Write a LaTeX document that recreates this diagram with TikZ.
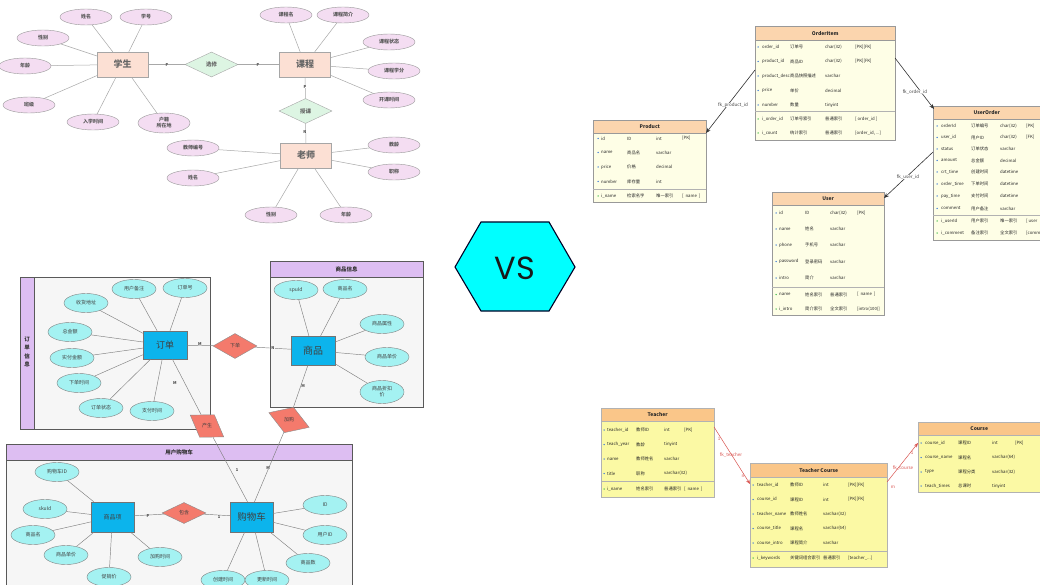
\documentclass[tikz,border=0pt]{standalone}
\usepackage{fontspec}
\setmainfont{Noto Sans CJK SC}
\newfontfamily\vsfont{Poppins}
\usetikzlibrary{shapes.geometric,arrows.meta,shadows}
\definecolor{entA}{HTML}{FCE0D4}
\definecolor{relA}{HTML}{DDF5E3}
\definecolor{attA}{HTML}{F4DDF2}
\definecolor{lnA}{HTML}{A8A8A8}
\definecolor{entB}{HTML}{0CB4EC}
\definecolor{relB}{HTML}{F47A6C}
\definecolor{attB}{HTML}{A4F2F2}
\definecolor{frmB}{HTML}{F6F6F6}
\definecolor{bandB}{HTML}{DDBEF2}
\definecolor{hexC}{HTML}{00FFFF}
\definecolor{headT}{HTML}{FBD5AE}
\definecolor{bodyT}{HTML}{FEFEE6}
\definecolor{headU}{HTML}{FAC689}
\definecolor{bodyU}{HTML}{FBF9A4}
\definecolor{fkred}{HTML}{D9534F}
\definecolor{pkblue}{HTML}{3A78D8}
\definecolor{ixgreen}{HTML}{3DBB4A}
\newcount\cellno
\newcommand\cols[5]{\def\cM{#1}\def\cN{#2}\def\cC{#3}\def\cT{#4}\def\cK{#5}}
\newcommand\trow[6]{%
  \global\advance\cellno by 1
  \node[mkdot,fill=#2] (m\the\cellno) at (\cM,#1) {};
  \node[tcell] (n\the\cellno) at (\cN,#1) {#3};
  \node[tcell] (z\the\cellno) at (\cC,#1) {#4};
  \node[tcell] (t\the\cellno) at (\cT,#1) {#5};
  \node[tcell] (k\the\cellno) at (\cK,#1) {#6};}
\begin{document}
\begin{tikzpicture}[x=1pt,y=-1pt,
  sEntA/.style={draw=black!35, fill=entA, minimum width=51, minimum height=25, inner sep=0, text=black!60, font=\fontsize{9}{9}\selectfont\bfseries},
  sRelA/.style={diamond, draw=black!35, fill=relA, minimum width=53, minimum height=25, inner sep=0, text=black!60, font=\fontsize{5.5}{6}\selectfont\bfseries},
  sAttA/.style={ellipse, draw=black!40, fill=attA, minimum width=52, minimum height=16, inner sep=0, text=black!65, font=\fontsize{5}{6}\selectfont\bfseries, align=center},
  sLnA/.style={draw=lnA, line width=0.5},
  sLbl/.style={inner sep=0, text=black!70, font=\fontsize{4}{4}\selectfont\bfseries},
  sEntB/.style={draw=black!55, fill=entB, inner sep=0, text=black!75},
  sRelB/.style={diamond, draw=black!45, fill=relB, inner sep=0, text=black!75, font=\fontsize{5}{5}\selectfont},
  sRelTxt/.style={inner sep=0, text=black!75, font=\fontsize{5}{5}\selectfont},
  sAttB/.style={ellipse, draw=black!50, fill=attB, minimum width=44, minimum height=19, inner sep=0, text=black!75, font=\fontsize{5}{6}\selectfont, align=center},
  sLnB/.style={draw=black!50, line width=0.45},
  sFrame/.style={draw=black!65, fill=frmB, line width=0.7},
  sBand/.style={draw=black!65, fill=bandB, line width=0.7},
  sBandTxt/.style={inner sep=0, text=black!80, font=\fontsize{5.5}{8.5}\selectfont\bfseries, align=center},
  sTBox/.style={draw=black!40, anchor=north west, inner sep=0, drop shadow={opacity=0.18,shadow xshift=1.2pt,shadow yshift=-1.2pt}},
  sTHead/.style={draw=black!40, anchor=north west, inner sep=0, text=black!85, font=\fontsize{5}{5}\selectfont\bfseries},
  sSep/.style={draw=black!30, line width=0.4},
  tcell/.style={anchor=west, inner sep=0, text=black!85, font=\fontsize{4.3}{5}\selectfont},
  mkdot/.style={circle, inner sep=0, minimum size=1.5},
  sFk/.style={draw=black!80, line width=0.6, -{Stealth[length=5pt,width=4pt]}},
  sFkR/.style={draw=fkred, line width=0.5, -{Stealth[length=4.5pt,width=3.5pt]}},
  sFkLbl/.style={inner sep=0, text=black!75, font=\fontsize{4.5}{5}\selectfont},
  sFkLblR/.style={inner sep=0, text=fkred, font=\fontsize{4.5}{5}\selectfont}
]
\useasboundingbox (0,0) rectangle (1040,585);
\clip (0,0) rectangle (1040,585);
\fill[white] (0,0) rectangle (1040,585);

% ================= top-left ER =================
\node[sEntA] (stu) at (122.5,64.5) {学生};
\node[sRelA] (xx) at (211.5,64.5) {选修};
\node[sEntA] (kc) at (305,64.5) {课程};
\node[sRelA] (sk) at (305.5,111) {授课};
\node[sEntA] (ls) at (306,155.5) {老师};
\node[sAttA] (a1) at (86,17) {姓名};
\node[sAttA] (a2) at (146,17) {学号};
\node[sAttA] (a3) at (43,38) {性别};
\node[sAttA] (a4) at (25,66) {年龄};
\node[sAttA] (a5) at (29,105) {班级};
\node[sAttA] (a6) at (93,122) {入学时间};
\node[sAttA, minimum height=20] (a7) at (164,123) {户籍\\所在地};
\node[sAttA] (b1) at (286,15) {课程名};
\node[sAttA] (b2) at (343,15) {课程简介};
\node[sAttA] (b3) at (389,42) {课程状态};
\node[sAttA] (b4) at (394,71) {课程学分};
\node[sAttA] (b5) at (389,100) {开课时间};
\node[sAttA] (c1) at (193,148) {教师编号};
\node[sAttA] (c2) at (193,178) {姓名};
\node[sAttA] (c3) at (394,145) {教龄};
\node[sAttA] (c4) at (394,172) {职称};
\node[sAttA] (c5) at (271,215) {性别};
\node[sAttA] (c6) at (346,215) {年龄};
\foreach \t in {a1,a2,a3,a4,a5,a6,a7} \draw[sLnA] (stu) -- (\t);
\foreach \t in {b1,b2,b3,b4,b5} \draw[sLnA] (kc) -- (\t);
\foreach \t in {c1,c2,c3,c4,c5,c6} \draw[sLnA] (ls) -- (\t);
\draw[sLnA] (stu) -- (xx);
\draw[sLnA] (xx) -- (kc);
\draw[sLnA] (kc) -- (sk);
\draw[sLnA] (sk) -- (ls);
\node[sLbl, fill=white] (l1) at (167,65) {P};
\node[sLbl, fill=white] (l2) at (258,65) {P};
\node[sLbl, fill=white] (l3) at (305,87) {P};
\node[sLbl, fill=white] (l4) at (305,132) {N};

% ================= bottom-left ER =================
\draw[sFrame] (20,277) rectangle (210,429);
\filldraw[sBand] (20,277) rectangle (34,429);
\node[sBandTxt] (ft1) at (27,352) {订\\单\\信\\息};
\draw[sFrame] (270,261) rectangle (423,407);
\filldraw[sBand] (270,261) rectangle (423,277);
\node[sBandTxt] (ft2) at (346.5,269) {商品信息};
\draw[sFrame] (6,444) rectangle (352,600);
\filldraw[sBand] (6,444) rectangle (352,460);
\node[sBandTxt] (ft3) at (179,452) {用户购物车};

\node[sEntB, minimum width=44, minimum height=28, font=\fontsize{9}{9}\selectfont] (dd) at (165,345) {订单};
\node[sRelB, minimum width=44, minimum height=25] (xd) at (235,346) {下单};
\node[sEntB, minimum width=44, minimum height=29, font=\fontsize{10}{10}\selectfont] (sp) at (313,350.5) {商品};
\node[sAttB] (d1) at (134,289) {用户备注};
\node[sAttB] (d2) at (185,288) {订单号};
\node[sAttB] (d3) at (86,303) {收货地址};
\node[sAttB] (d4) at (70,332) {总金额};
\node[sAttB] (d5) at (72,358) {实付金额};
\node[sAttB] (d6) at (79,383) {下单时间};
\node[sAttB] (d7) at (101,408) {订单状态};
\node[sAttB] (d8) at (152,411) {支付时间};
\node[sAttB] (p1) at (296,290) {spuId};
\node[sAttB] (p2) at (345,289) {商品名};
\node[sAttB] (p3) at (382,324) {商品属性};
\node[sAttB] (p4) at (387,357) {商品单价};
\node[sAttB, minimum height=23] (p5) at (382,392) {商品折扣\\价};
\node[sRelB, minimum width=40, minimum height=27, rotate=-33] (r1) at (207,426) {};
\node[sRelTxt] (r1t) at (r1.center) {产生};
\node[sRelB, minimum width=43, minimum height=27, rotate=-20] (r2) at (289,420) {};
\node[sRelTxt] (r2t) at (r2.center) {加购};

\node[sEntB, minimum width=43, minimum height=30, font=\fontsize{6}{6}\selectfont] (spx) at (112.5,517) {商品项};
\node[sRelB, minimum width=44, minimum height=21] (bh) at (184,513) {包含};
\node[sEntB, minimum width=43, minimum height=30, font=\fontsize{9.5}{10}\selectfont] (gwc) at (251.5,517) {购物车};
\node[sAttB] (e1) at (57,472) {购物车ID};
\node[sAttB] (e2) at (45,509) {skuId};
\node[sAttB] (e3) at (33,535) {商品名};
\node[sAttB] (e4) at (66,555) {商品单价};
\node[sAttB] (e5) at (109,577) {促销价};
\node[sAttB] (e6) at (160,557) {加购时间};
\node[sAttB] (f1) at (325,505) {ID};
\node[sAttB] (f2) at (325,535) {用户ID};
\node[sAttB] (f3) at (308,563) {商品数};
\node[sAttB] (f4) at (223,580) {创建时间};
\node[sAttB] (f5) at (267,580) {更新时间};

\foreach \t in {d1,d2,d3,d4,d5,d6,d7,d8} \draw[sLnB] (dd) -- (\t);
\foreach \t in {p1,p2,p3,p4,p5} \draw[sLnB] (sp) -- (\t);
\foreach \t in {e1,e2,e3,e4,e5,e6} \draw[sLnB] (spx) -- (\t);
\foreach \t in {f1,f2,f3,f4,f5} \draw[sLnB] (gwc) -- (\t);
\draw[sLnB] (dd) -- (xd);
\draw[sLnB] (xd) -- (sp);
\draw[sLnB] (dd) -- (r1);
\draw[sLnB] (r1) -- ([xshift=-4pt]gwc.north);
\draw[sLnB] (sp) -- (r2);
\draw[sLnB] (r2) -- ([xshift=3pt]gwc.north);
\draw[sLnB] (spx) -- (bh);
\draw[sLnB] (bh) -- (gwc);
\node[sLbl, fill=frmB] (m1) at (200,344) {M};
\node[sLbl, fill=frmB] (m2) at (273,348) {N};
\node[sLbl, fill=frmB] (m3) at (175,383) {M};
\node[sLbl, fill=frmB] (m4) at (303,386) {M};
\node[sLbl, fill=frmB] (m5) at (237,470) {1};
\node[sLbl, fill=frmB] (m6) at (268,468) {M};
\node[sLbl, fill=frmB] (m7) at (148,516) {P};
\node[sLbl, fill=frmB] (m8) at (219,517) {1};

% ================= VS hexagon =================
\filldraw[fill=hexC, draw=black!85!blue, line width=1.1] (455,267) -- (481,222) -- (549,222) -- (575,267) -- (549,311) -- (481,311) -- cycle;
\node[inner sep=0, text=black!90] (vs) at (515,268) {\vsfont\fontsize{32}{32}\selectfont VS};

% ================= top-right tables =================
% OrderItem
\node[sTBox, fill=bodyT, minimum width=140, minimum height=114] (oi) at (755,26) {};
\node[sTHead, fill=headT, minimum width=140, minimum height=14] (oih) at (755,26) {OrderItem};
\draw[sSep] (755,111) -- (895,111);
\cols{758}{762}{790}{825}{855}
\trow{47}{pkblue}{order\_id}{订单号}{char(32)}{[PK][FK]}
\trow{61.5}{pkblue}{product\_id}{商品ID}{char(32)}{[PK][FK]}
\trow{76}{pkblue}{product\_desc}{商品快照描述}{varchar}{}
\trow{90.5}{pkblue}{price}{单价}{decimal}{}
\trow{105}{pkblue}{number}{数量}{tinyint}{}
\trow{119}{ixgreen}{i\_order\_id}{订单号索引}{普通索引}{[ order\_id ]}
\trow{133}{ixgreen}{i\_count}{统计索引}{普通索引}{[order\_id, ...]}
% Product
\node[sTBox, fill=bodyT, minimum width=113, minimum height=82] (pr) at (593,120) {};
\node[sTHead, fill=headT, minimum width=113, minimum height=13] (prh) at (593,120) {Product};
\draw[sSep] (593,189) -- (706,189);
\cols{598}{601}{627}{656}{682}
\trow{138.5}{pkblue}{id}{ID}{int}{[PK]}
\trow{152.5}{pkblue}{name}{商品名}{varchar}{}
\trow{167}{pkblue}{price}{价格}{decimal}{}
\trow{181.5}{pkblue}{number}{库存量}{int}{}
\trow{196}{ixgreen}{i\_name}{检索名字}{唯一索引}{[ \ name \ ]}
% User
\node[sTBox, fill=bodyT, minimum width=112, minimum height=123] (us) at (772,192) {};
\node[sTHead, fill=headT, minimum width=112, minimum height=13] (ush) at (772,192) {User};
\draw[sSep] (772,287) -- (884,287);
\cols{776}{779}{805}{830}{857}
\trow{213}{pkblue}{id}{ID}{char(32)}{[PK]}
\trow{229}{pkblue}{name}{姓名}{varchar}{}
\trow{245}{pkblue}{phone}{手机号}{varchar}{}
\trow{261.5}{pkblue}{password}{登录密码}{varchar}{}
\trow{278}{pkblue}{intro}{简介}{varchar}{}
\trow{294.5}{ixgreen}{name}{姓名索引}{普通索引}{[ \ name \ ]}
\trow{309}{ixgreen}{i\_intro}{简介索引}{全文索引}{[intro(100)]}
% UserOrder
\node[sTBox, fill=bodyT, minimum width=120, minimum height=134] (uo) at (933,106) {};
\node[sTHead, fill=headT, minimum width=120, minimum height=13] (uoh) at (933,106) {\hspace*{-13pt}UserOrder};
\draw[sSep] (933,215) -- (1053,215);
\cols{937}{941}{971}{1000}{1026}
\trow{126}{pkblue}{orderId}{订单编号}{char(32)}{[PK]}
\trow{137.5}{pkblue}{user\_id}{用户ID}{char(32)}{[FK]}
\trow{149}{pkblue}{status}{订单状态}{varchar}{}
\trow{160.5}{pkblue}{amount}{总金额}{decimal}{}
\trow{172}{pkblue}{crt\_time}{创建时间}{datetime}{}
\trow{184}{pkblue}{order\_time}{下单时间}{datetime}{}
\trow{196}{pkblue}{pay\_time}{支付时间}{datetime}{}
\trow{208.5}{pkblue}{comment}{用户备注}{varchar}{}
\trow{221}{ixgreen}{i\_userId}{用户索引}{唯一索引}{[ user}
\trow{233}{ixgreen}{i\_comment}{备注索引}{全文索引}{[comm}

\coordinate (oiL) at (755,70);
\coordinate (prR) at (706,133);
\draw[sFk] (oiL) -- (prR);
\node[sFkLbl, fill=white] (fl1) at (733,105) {fk\_product\_id};
\coordinate (oiR) at (895,58);
\coordinate (uoT) at (934,109);
\draw[sFk] (oiR) -- (uoT);
\node[sFkLbl, fill=white] (fl2) at (915,92) {fk\_order\_id};
\coordinate (uoL) at (933,152);
\coordinate (usR) at (884,198);
\draw[sFk] (uoL) -- (usR);
\node[sFkLbl, fill=white] (fl3) at (908,177) {fk\_user\_id};

% ================= bottom-right tables =================
% Teacher
\node[sTBox, draw=black!30, fill=bodyU, minimum width=113, minimum height=89] (te) at (601,408) {};
\node[sTHead, draw=black!30, fill=headU, minimum width=113, minimum height=13] (teh) at (601,408) {Teacher};
\draw[sSep] (601,481) -- (714,481);
\cols{604}{607}{636}{664}{684}
\trow{430}{pkblue}{teacher\_id}{教师ID}{int}{[PK]}
\trow{444.5}{pkblue}{teach\_year}{教龄}{tinyint}{}
\trow{459}{pkblue}{name}{教师姓名}{varchar}{}
\trow{473.5}{pkblue}{title}{职称}{varchar(32)}{}
\trow{489}{ixgreen}{i\_name}{姓名索引}{普通索引}{[ \ name \ ]}
% Teacher Course
\node[sTBox, draw=black!30, fill=bodyU, minimum width=137, minimum height=104] (tc) at (750,463) {};
\node[sTHead, draw=black!30, fill=headU, minimum width=137, minimum height=14] (tch) at (750,463) {Teacher Course};
\draw[sSep] (750,551) -- (887,551);
\cols{753}{757}{790}{823}{848}
\trow{485}{pkblue}{teacher\_id}{教师ID}{int}{[PK][FK]}
\trow{499.5}{pkblue}{course\_id}{课程ID}{int}{[PK][FK]}
\trow{514}{pkblue}{teacher\_name}{教师姓名}{varchar(32)}{}
\trow{528.5}{pkblue}{course\_title}{课程名}{varchar(64)}{}
\trow{543}{pkblue}{course\_intro}{课程简介}{varchar}{}
\trow{558}{ixgreen}{i\_keywords}{关键词组合索引}{普通索引}{[teacher\_...]}
% Course
\node[sTBox, draw=black!30, fill=bodyU, minimum width=127, minimum height=70] (co) at (918,422) {};
\node[sTHead, draw=black!30, fill=headU, minimum width=127, minimum height=13] (coh) at (918,422) {\hspace*{-5pt}Course};
\cols{921}{925}{958}{992}{1015}
\trow{443}{pkblue}{course\_id}{课程ID}{int}{[PK]}
\trow{457.5}{pkblue}{course\_name}{课程名}{varchar(64)}{}
\trow{472}{pkblue}{type}{课程分类}{varchar(32)}{}
\trow{486}{pkblue}{teach\_times}{总课时}{tinyint}{}

\coordinate (teR) at (714,427);
\coordinate (tcL) at (750,484);
\draw[sFkR] (teR) -- (tcL);
\node[sFkLblR] (fr1) at (731,455) {fk\_teacher};
\node[sFkLblR] (fr2) at (719,439) {1};
\node[sFkLblR] (fr3) at (743,476) {n};
\coordinate (tcR) at (887,482);
\coordinate (coL) at (918,443);
\draw[sFkR] (tcR) -- (coL);
\node[sFkLblR] (fr4) at (903,468) {fk\_course};
\node[sFkLblR] (fr5) at (893,487) {m};
\node[sFkLblR] (fr6) at (912,453) {1};
\end{tikzpicture}
\end{document}
